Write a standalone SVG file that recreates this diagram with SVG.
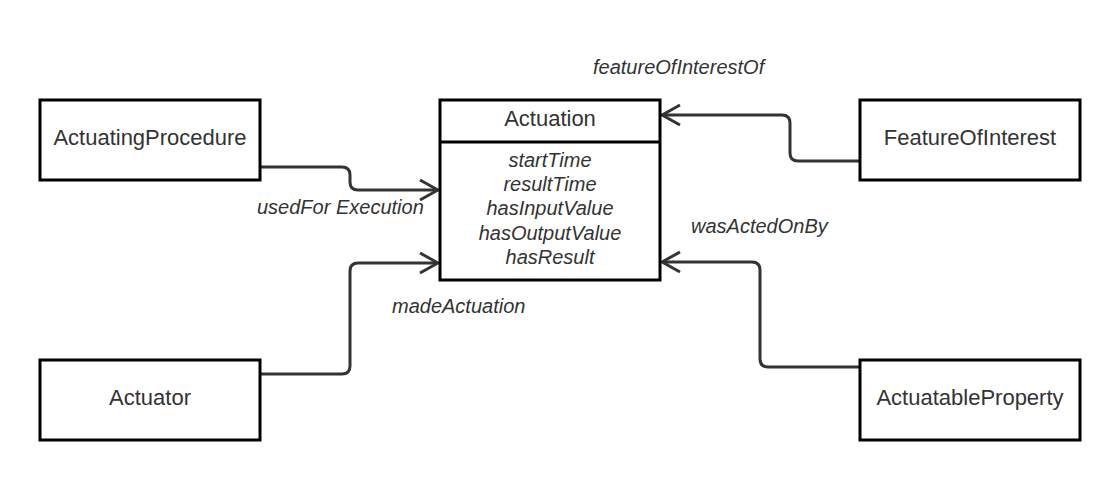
<svg xmlns="http://www.w3.org/2000/svg" width="1120" height="480" viewBox="0 0 1120 480">
<style>
.box{fill:#fff;stroke:#000;stroke-width:3}
.lbl{font-family:"Liberation Sans",Arial,sans-serif;font-size:22px;fill:#333;text-anchor:middle}
.attr{font-family:"Liberation Sans",Arial,sans-serif;font-size:20px;font-style:italic;fill:#333;text-anchor:middle}
.elbl{font-family:"Liberation Sans",Arial,sans-serif;font-size:20px;font-style:italic;fill:#333}
.conn{fill:none;stroke:#333;stroke-width:3}
</style>
<defs>
<marker id="arr" viewBox="0 0 22 24" refX="20" refY="12" markerWidth="22" markerHeight="24" markerUnits="userSpaceOnUse" orient="auto">
<path d="M2 2 L20 12 L2 22" fill="none" stroke="#333" stroke-width="3"/>
</marker>
</defs>
<rect width="1120" height="480" fill="#fff"/>
<g id="connectors">
<path class="conn" marker-end="url(#arr)" d="M260 167 H342 Q350 167 350 175 V182 Q350 190 358 190 H438"/>
<path class="conn" marker-end="url(#arr)" d="M260 374 H342 Q350 374 350 366 V271 Q350 263 358 263 H438"/>
<path class="conn" marker-end="url(#arr)" d="M860 161 H798 Q790 161 790 153 V123 Q790 115 782 115 H662"/>
<path class="conn" marker-end="url(#arr)" d="M860 367 H768 Q760 367 760 359 V270 Q760 262 752 262 H662"/>
<text class="elbl" x="593" y="74">featureOfInterestOf</text>
<text class="elbl" x="257" y="214">usedFor Execution</text>
<text class="elbl" x="691" y="233">wasActedOnBy</text>
<text class="elbl" x="392" y="313">madeActuation</text>
</g>
<g id="actuation">
<rect class="box" x="440" y="100" width="220" height="180"/>
<line x1="440" y1="142" x2="660" y2="142" stroke="#000" stroke-width="3"/>
<text class="lbl" x="550" y="126">Actuation</text>
<text class="attr" x="550" y="167">startTime</text>
<text class="attr" x="550" y="191">resultTime</text>
<text class="attr" x="550" y="215">hasInputValue</text>
<text class="attr" x="550" y="240">hasOutputValue</text>
<text class="attr" x="550" y="264">hasResult</text>
</g>
<g id="actuatingProcedure">
<rect class="box" x="40" y="100" width="220" height="80"/>
<text class="lbl" x="150" y="145">ActuatingProcedure</text>
</g>
<g id="featureOfInterest">
<rect class="box" x="860" y="100" width="220" height="80"/>
<text class="lbl" x="970" y="145">FeatureOfInterest</text>
</g>
<g id="actuator">
<rect class="box" x="40" y="360" width="220" height="80"/>
<text class="lbl" x="150" y="405">Actuator</text>
</g>
<g id="actuatableProperty">
<rect class="box" x="860" y="360" width="220" height="80"/>
<text class="lbl" x="970" y="405">ActuatableProperty</text>
</g>
</svg>
